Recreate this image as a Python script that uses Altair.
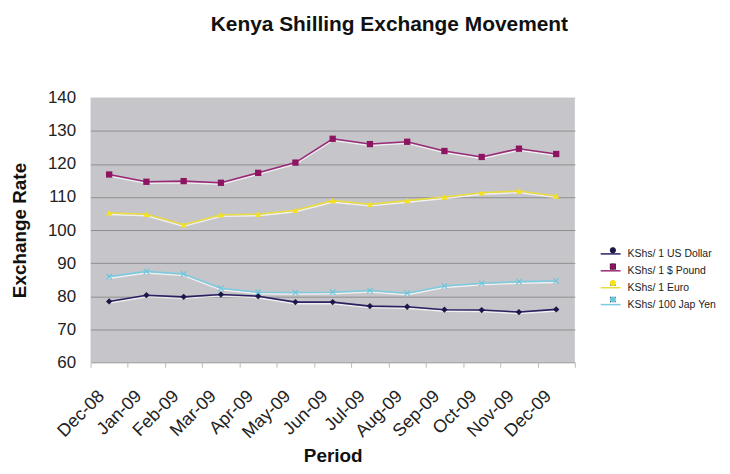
import altair as alt
import pandas as pd

months = ["Dec-08", "Jan-09", "Feb-09", "Mar-09", "Apr-09", "May-09", "Jun-09",
          "Jul-09", "Aug-09", "Sep-09", "Oct-09", "Nov-09", "Dec-09"]
series = ["KShs/ 1 US Dollar", "KShs/ 1 $ Pound", "KShs/ 1 Euro", "KShs/ 100 Jap Yen"]

usd = [78.4, 80.3, 79.8, 80.5, 80.0, 78.2, 78.2, 77.0, 76.8, 75.9, 75.8, 75.2, 76.0]
gbp = [116.8, 114.6, 114.8, 114.3, 117.3, 120.4, 127.6, 126.0, 126.7, 123.9, 122.1, 124.6, 123.0]
eur = [105.2, 104.8, 101.6, 104.6, 104.8, 106.0, 108.9, 107.8, 108.9, 110.0, 111.3, 111.8, 110.3]
jpy = [85.9, 87.5, 86.7, 82.4, 81.2, 81.1, 81.2, 81.7, 80.9, 83.1, 83.9, 84.4, 84.6]

line_colors = ["#2a2062", "#9a2a78", "#eadc3c", "#7ccbe0"]
marker_colors = ["#1a1848", "#8c1460", "#f4e21c", "#6cc4dc"]
x_shape = "M-1,-0.75L-0.75,-1L0,-0.25L0.75,-1L1,-0.75L0.25,0L1,0.75L0.75,1L0,0.25L-0.75,1L-1,0.75L-0.25,0Z"
shapes = ["diamond", "square", "triangle-up", x_shape]

rows = []
for name, vals in zip(series, [usd, gbp, eur, jpy]):
    for m, v in zip(months, vals):
        rows.append({"Period": m, "Series": name, "SeriesP": name, "Rate": v})
df = pd.DataFrame(rows)

FONT = "Liberation Sans"
BG = "#c6c6ca"

x_enc = alt.X(
    "Period:N", sort=months,
    scale=alt.Scale(type="band", paddingInner=0, paddingOuter=0),
    axis=alt.Axis(title="Period", labelAngle=-45, labelAlign="right", labelBaseline="middle",
                  labelFontSize=18, labelFont=FONT, labelColor="#222", labelPadding=26,
                  labelOffset=-8,
                  tickBand="extent", tickSize=5, tickColor="#bbbbbb", domain=False, grid=False,
                  titleFontSize=19, titleFont=FONT, titleFontWeight="bold", titleColor="#111",
                  titleBaseline="alphabetic", titleY=100),
)
y_enc = alt.Y(
    "Rate:Q",
    scale=alt.Scale(domain=[60, 140], nice=False, zero=False),
    axis=alt.Axis(title="Exchange Rate", values=list(range(60, 141, 10)), grid=True,
                  gridColor={"condition": {"test": "datum.value === 140", "value": BG},
                             "value": "#8e8e8e"},
                  gridWidth=1, ticks=False, domain=False,
                  labelFontSize=17, labelFont=FONT, labelColor="#222", labelPadding=15,
                  titleFontSize=19, titleFont=FONT, titleFontWeight="bold", titleColor="#111",
                  titlePadding=18),
)

LX, LY = 512, 146

glow = alt.Chart(df).mark_line(strokeWidth=1.4, color="white", opacity=0.75, yOffset=1.6).encode(
    x=x_enc, y=y_enc, detail="Series:N",
)

lines = alt.Chart(df).mark_line(strokeWidth=1.6).encode(
    x=x_enc, y=y_enc,
    stroke=alt.Stroke(
        "Series:N",
        scale=alt.Scale(domain=series, range=line_colors),
        legend=alt.Legend(orient="none", legendX=LX, legendY=LY, title=None,
                          symbolType="stroke", symbolSize=400, symbolStrokeWidth=1.5,
                          labelFontSize=10.5, labelFont=FONT, labelColor="#222",
                          labelOffset=6, rowPadding=0, padding=0),
    ),
    detail="Series:N",
)

leg_p = alt.Legend(orient="none", legendX=LX, legendY=LY + 2, title=None,
                   symbolSize=36, symbolStrokeWidth=0, symbolOffset=8,
                   labelFontSize=10.5, labelFont=FONT, labelOpacity=0, labelExpr="' '",
                   labelOffset=6, rowPadding=5.5, padding=0)

points = alt.Chart(df).mark_point(filled=True, size=40, opacity=1).encode(
    x=x_enc, y=y_enc,
    fill=alt.Fill("SeriesP:N", sort=series, scale=alt.Scale(range=marker_colors), legend=leg_p),
    shape=alt.Shape("SeriesP:N", sort=series, scale=alt.Scale(range=shapes), legend=leg_p),
)

chart = alt.layer(glow, lines, points).properties(
    width=487, height=266,
    autosize=alt.AutoSizeParams(type="none"),
    padding={"left": 83, "top": 89, "right": 148, "bottom": 103},
    background="white",
    title=alt.Title("Kenya Shilling Exchange Movement", fontSize=21, font=FONT,
                    fontWeight="bold", color="#111", offset=54, dx=57, anchor="middle"),
).configure_view(fill=BG, stroke=None)

chart.save("out.html", embed_options={"renderer": "svg", "actions": False})
